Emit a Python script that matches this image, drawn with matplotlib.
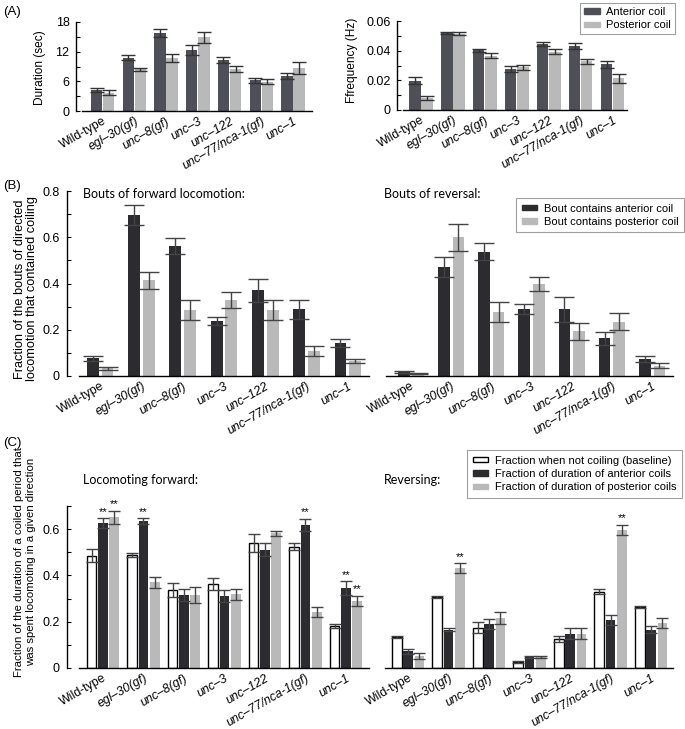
import matplotlib
matplotlib.use("Agg")
import matplotlib.pyplot as plt
from matplotlib.patches import Patch
import numpy as np

plt.rcParams['font.family'] = ['Liberation Sans', 'DejaVu Sans']
plt.rcParams['font.size'] = 9

strains = ["Wild-type", "egl–30(gf)", "unc–8(gf)", "unc–3", "unc–122",
           "unc–77/nca-1(gf)", "unc–1"]

# Panel A
dur_ant = [4.3, 10.8, 15.8, 12.3, 10.4, 6.2, 7.1]
dur_ant_err = [0.4, 0.5, 0.8, 1.0, 0.6, 0.45, 0.65]
dur_post = [3.7, 8.4, 10.8, 14.9, 8.5, 5.9, 8.7]
dur_post_err = [0.45, 0.35, 0.8, 1.1, 0.6, 0.5, 1.2]

freq_ant = [0.0196, 0.0521, 0.0402, 0.0276, 0.0443, 0.0431, 0.0308]
freq_ant_err = [0.0024, 0.0008, 0.0012, 0.0018, 0.0013, 0.0019, 0.0022]
freq_post = [0.0081, 0.0515, 0.0366, 0.0288, 0.0393, 0.0328, 0.0213]
freq_post_err = [0.0012, 0.0008, 0.0017, 0.0016, 0.0015, 0.0019, 0.003]

# Panel B
fwd_ant = [0.076, 0.698, 0.561, 0.239, 0.371, 0.288, 0.144]
fwd_ant_err = [0.010, 0.043, 0.035, 0.017, 0.050, 0.040, 0.017]
fwd_post = [0.033, 0.413, 0.285, 0.328, 0.285, 0.108, 0.065]
fwd_post_err = [0.005, 0.037, 0.042, 0.035, 0.042, 0.020, 0.010]

rev_ant = [0.019, 0.472, 0.538, 0.288, 0.288, 0.163, 0.073]
rev_ant_err = [0.004, 0.043, 0.037, 0.022, 0.053, 0.027, 0.012]
rev_post = [0.009, 0.599, 0.278, 0.397, 0.194, 0.235, 0.045]
rev_post_err = [0.002, 0.058, 0.043, 0.030, 0.037, 0.038, 0.010]

# Panel C
cf_base = [0.486, 0.489, 0.338, 0.362, 0.540, 0.525, 0.182]
cf_base_err = [0.030, 0.008, 0.030, 0.025, 0.040, 0.015, 0.008]
cf_ant = [0.627, 0.636, 0.315, 0.310, 0.510, 0.617, 0.345]
cf_ant_err = [0.020, 0.012, 0.025, 0.025, 0.028, 0.027, 0.030]
cf_post = [0.652, 0.370, 0.315, 0.318, 0.582, 0.242, 0.290]
cf_post_err = [0.028, 0.025, 0.035, 0.025, 0.012, 0.022, 0.022]
cf_sig_ant = [True, True, False, False, False, True, True]
cf_sig_post = [True, False, False, False, False, False, True]

cr_base = [0.133, 0.308, 0.175, 0.026, 0.126, 0.330, 0.264]
cr_base_err = [0.004, 0.005, 0.025, 0.003, 0.012, 0.012, 0.004]
cr_ant = [0.072, 0.165, 0.189, 0.049, 0.149, 0.207, 0.165]
cr_ant_err = [0.012, 0.007, 0.022, 0.004, 0.025, 0.023, 0.015]
cr_post = [0.053, 0.432, 0.215, 0.049, 0.149, 0.598, 0.195]
cr_post_err = [0.012, 0.020, 0.025, 0.004, 0.023, 0.022, 0.020]
cr_sig_ant = [False] * 7
cr_sig_post = [False, True, False, False, False, True, False]

W, H = 685, 729
fig = plt.figure(figsize=(W / 100, H / 100), dpi=100)

def ax_px(x0, x1, ytop, ybot):
    return fig.add_axes([x0 / W, (H - ybot) / H, (x1 - x0) / W, (ybot - ytop) / H])

A_DARK = '#4f4f57'
DARK = '#2b2b30'
LIGHT = '#b9b9b9'
ERR = '#333333'
TICKFS = 8.8

def style(ax, yaxis=True, offset=9):
    for s in ['top', 'right']:
        ax.spines[s].set_visible(False)
    ax.spines['bottom'].set_linewidth(1.0)
    if yaxis:
        ax.spines['left'].set_position(('outward', offset))
        ax.spines['left'].set_linewidth(1.0)
        ax.tick_params(axis='y', direction='in', length=3, width=0.8, pad=5, labelsize=9)
        ax.tick_params(axis='y', which='minor', direction='in', length=3, width=0.8)
    else:
        ax.spines['left'].set_visible(False)
        ax.tick_params(axis='y', left=False, labelleft=False)
        ax.tick_params(axis='y', which='minor', left=False)
    ax.tick_params(axis='x', length=0, pad=3)
    x = np.arange(len(strains))
    ax.set_xticks(x)
    ax.set_xticklabels(strains, rotation=30, ha='right', rotation_mode='anchor', fontsize=TICKFS)
    for lbl in ax.get_xticklabels():
        if lbl.get_text() != 'Wild-type':
            lbl.set_fontstyle('italic')

def bars2(ax, a, ae, p, pe, dark, w, off, cap, ecol=ERR, elw=1.0):
    x = np.arange(len(strains))
    ax.bar(x - off, a, w, color=dark, zorder=2)
    ax.bar(x + off, p, w, color=LIGHT, zorder=2)
    ax.errorbar(x - off, a, yerr=ae, fmt='none', ecolor=ecol, elinewidth=elw, capsize=cap, capthick=elw, zorder=3)
    ax.errorbar(x + off, p, yerr=pe, fmt='none', ecolor=ecol, elinewidth=elw, capsize=cap, capthick=elw, zorder=3)

def legend(handles, anchor, bp):
    leg = fig.legend(handles=handles, loc='upper right', bbox_to_anchor=anchor,
                     frameon=True, fancybox=False, edgecolor='#a0a0a0', framealpha=1,
                     fontsize=8, handlelength=1.4, handleheight=0.35, handletextpad=0.6,
                     borderpad=bp, labelspacing=0.3, borderaxespad=0)
    leg.get_frame().set_linewidth(0.8)
    return leg

# ---------- Panel A ----------
axA1 = ax_px(82, 312, 22, 111)
bars2(axA1, dur_ant, dur_ant_err, dur_post, dur_post_err, A_DARK, 0.36, 0.19, 5)
axA1.set_xlim(-0.65, 6.6)
axA1.set_ylim(0, 18)
axA1.set_yticks([0, 6, 12, 18])
axA1.set_yticks([3, 9, 15], minor=True)
style(axA1, offset=4)

axA2 = ax_px(403, 627, 21, 110)
bars2(axA2, freq_ant, freq_ant_err, freq_post, freq_post_err, A_DARK, 0.36, 0.19, 5)
axA2.set_xlim(-0.56, 6.45)
axA2.set_ylim(0, 0.06)
axA2.set_yticks([0, 0.02, 0.04, 0.06])
axA2.set_yticklabels(['0', '0.02', '0.04', '0.06'])
axA2.set_yticks([0.01, 0.03, 0.05], minor=True)
style(axA2, offset=4)

fig.text(40 / W, 1 - 68 / H, 'Duration (sec)', rotation=90, ha='center', va='center', fontsize=8.6)
fig.text(352 / W, 1 - 60 / H, 'Ffrequency (Hz)', rotation=90, ha='center', va='center', fontsize=8.6)
fig.text(3 / W, 1 - 12 / H, '(A)', ha='left', va='center', fontsize=9.5)

legend([Patch(color=A_DARK, label='Anterior coil'),
        Patch(color=LIGHT, label='Posterior coil')],
       (675 / W, 1 - 3 / H), 0.35)

# ---------- Panel B ----------
B_ERR = '#444444'
axB1 = ax_px(79, 369, 191, 376)
bars2(axB1, fwd_ant, fwd_ant_err, fwd_post, fwd_post_err, DARK, 0.29, 0.18, 7, ecol=B_ERR)
axB1.set_xlim(-0.51, 6.51)
axB1.set_ylim(0, 0.8)
axB1.set_yticks([0, 0.2, 0.4, 0.6, 0.8])
axB1.set_yticklabels(['0', '0.2', '0.4', '0.6', '0.8'])
axB1.set_yticks([0.1, 0.3, 0.5, 0.7], minor=True)
style(axB1, offset=9)

axB2 = ax_px(386, 673, 191, 376)
bars2(axB2, rev_ant, rev_ant_err, rev_post, rev_post_err, DARK, 0.29, 0.18, 7, ecol=B_ERR)
axB2.set_xlim(-0.62, 6.52)
axB2.set_ylim(0, 0.8)
style(axB2, yaxis=False)

TFONT = ['Lato', 'DejaVu Sans']
fig.text(83 / W, 1 - 194 / H, 'Bouts of forward locomotion:', ha='left', va='center', fontsize=9, family=TFONT)
fig.text(384 / W, 1 - 194 / H, 'Bouts of reversal:', ha='left', va='center', fontsize=9, family=TFONT)
fig.text(3 / W, 1 - 186 / H, '(B)', ha='left', va='center', fontsize=9.5)
fig.text(26 / W, 1 - 289 / H, 'Fraction of the bouts of directed\nlocomotion that contained coiling',
         rotation=90, ha='center', va='center', fontsize=9.2, linespacing=1.0)

legend([Patch(color=DARK, label='Bout contains anterior coil'),
        Patch(color=LIGHT, label='Bout contains posterior coil')],
       (684 / W, 1 - 198 / H), 0.5)

# ---------- Panel C ----------
def bars3(ax, b, be, a, ae, p, pe, sa, sp):
    x = np.arange(len(strains))
    w, off = 0.24, 0.28
    ax.bar(x - off, b, w, facecolor='white', edgecolor='black', linewidth=1.0, zorder=2)
    ax.bar(x, a, w, color=DARK, zorder=2)
    ax.bar(x + off, p, w, color=LIGHT, zorder=2)
    for xx, v, e in ((x - off, b, be), (x, a, ae), (x + off, p, pe)):
        ax.errorbar(xx, v, yerr=e, fmt='none', ecolor=B_ERR, elinewidth=1.0,
                    capsize=4.5, capthick=1.0, zorder=3)
    for i in range(len(strains)):
        if sa[i]:
            ax.text(x[i], a[i] + ae[i] + 0.006, '**', ha='center', va='bottom', fontsize=8)
        if sp[i]:
            ax.text(x[i] + off, p[i] + pe[i] + 0.006, '**', ha='center', va='bottom', fontsize=8)

axC1 = ax_px(79, 369, 506, 668)
bars3(axC1, cf_base, cf_base_err, cf_ant, cf_ant_err, cf_post, cf_post_err, cf_sig_ant, cf_sig_post)
axC1.set_xlim(-0.59, 6.57)
axC1.set_ylim(0, 0.7)
axC1.set_yticks([0, 0.2, 0.4, 0.6])
axC1.set_yticklabels(['0', '0.2', '0.4', '0.6'])
axC1.set_yticks([0.1, 0.3, 0.5, 0.7], minor=True)
style(axC1, offset=9)

axC2 = ax_px(385, 673, 506, 668)
bars3(axC2, cr_base, cr_base_err, cr_ant, cr_ant_err, cr_post, cr_post_err, cr_sig_ant, cr_sig_post)
axC2.set_xlim(-0.57, 6.54)
axC2.set_ylim(0, 0.7)
style(axC2, yaxis=False)

fig.text(83 / W, 1 - 480 / H, 'Locomoting forward:', ha='left', va='center', fontsize=9, family=TFONT)
fig.text(384 / W, 1 - 480 / H, 'Reversing:', ha='left', va='center', fontsize=9, family=TFONT)
fig.text(3 / W, 1 - 443 / H, '(C)', ha='left', va='center', fontsize=9.5)
fig.text(25 / W, 1 - 562 / H, 'Fraction of the duration of a coiled period that\nwas spent locomoting in a given direction',
         rotation=90, ha='center', va='center', fontsize=8.2, linespacing=1.15)

legend([Patch(facecolor='white', edgecolor='black', linewidth=1.0, label='Fraction when not coiling (baseline)'),
        Patch(color=DARK, label='Fraction of duration of anterior coils'),
        Patch(color=LIGHT, label='Fraction of duration of posterior coils')],
       (682 / W, 1 - 450 / H), 0.5)

fig.savefig('out.png', dpi=100)
